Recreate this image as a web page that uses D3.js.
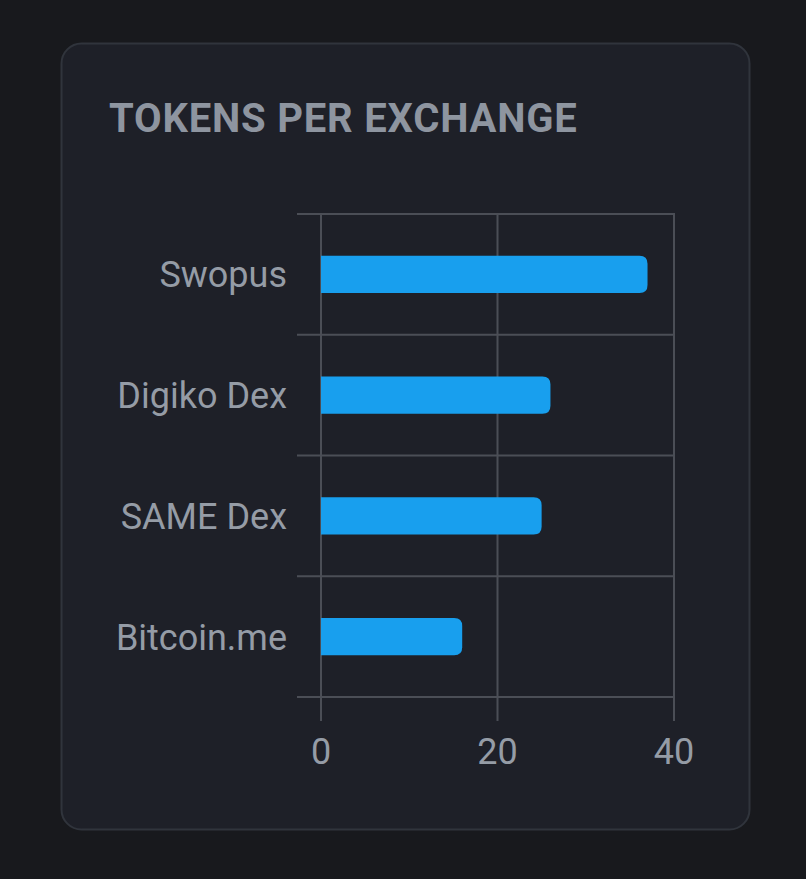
<!DOCTYPE html>
<html>
<head>
<meta charset="utf-8">
<script src="https://cdn.jsdelivr.net/npm/d3@7"></script>
<style>
  html, body { margin: 0; padding: 0; background: #18191d; }
  svg { display: block; }
</style>
</head>
<body>
<svg></svg>
<script>
var W = 806, H = 879;

// data
var exchanges = ["Swopus", "Digiko Dex", "SAME Dex", "Bitcoin.me"];
var tokens = [37, 26, 25, 16];
var xTicks = [0, 20, 40];

var svg = d3.select("svg")
  .attr("width", W)
  .attr("height", H);

// card
svg.append("rect")
  .attr("x", 61.5).attr("y", 43.5)
  .attr("width", 688).attr("height", 786)
  .attr("rx", 20)
  .attr("fill", "#1e2028")
  .attr("stroke", "#30343c")
  .attr("stroke-width", 2);

svg.append("text")
  .attr("x", 109).attr("y", 132)
  .attr("font-family", "Roboto")
  .attr("font-weight", "bold")
  .attr("font-size", 40)
  .attr("letter-spacing", 0.8)
  .attr("fill", "#8e95a0")
  .text("TOKENS PER EXCHANGE");

var margin = {top: 214, left: 321, right: 806 - 674, bottom: 879 - 697};

var x = d3.scaleLinear()
  .domain([0, 40])
  .range([margin.left, W - margin.right]);

var y = d3.scaleBand()
  .domain(exchanges)
  .range([margin.top, H - margin.bottom]);

var gridColor = "#4b4e56";
var tickLen = 24;

var g = svg.append("g");

// vertical grid lines + ticks below
g.selectAll(".vgrid")
  .data(xTicks)
  .enter()
  .append("line")
    .attr("x1", d => x(d)).attr("x2", d => x(d))
    .attr("y1", y.range()[0]).attr("y2", y.range()[1] + tickLen)
    .attr("stroke", gridColor)
    .attr("stroke-width", 2);

// horizontal grid lines at band edges + ticks left
var edges = exchanges.map(d => y(d)).concat([y.range()[1]]);
g.selectAll(".hgrid")
  .data(edges)
  .enter()
  .append("line")
    .attr("x1", x.range()[0] - tickLen).attr("x2", x.range()[1] + 1)
    .attr("y1", d => d).attr("y2", d => d)
    .attr("stroke", gridColor)
    .attr("stroke-width", 2);

// bars, rounded on the right end only
var barH = y.bandwidth() * 0.31;
var r = 8;
function barPath(d, i) {
  var x0 = x(0), x1 = x(d);
  var yc = y(exchanges[i]) + y.bandwidth() / 2;
  var y0 = yc - barH / 2, y1 = yc + barH / 2;
  return "M" + x0 + "," + y0 +
    "H" + (x1 - r) +
    "Q" + x1 + "," + y0 + " " + x1 + "," + (y0 + r) +
    "V" + (y1 - r) +
    "Q" + x1 + "," + y1 + " " + (x1 - r) + "," + y1 +
    "H" + x0 + "Z";
}
g.selectAll(".bar")
  .data(tokens)
  .enter()
  .append("path")
    .attr("d", barPath)
    .attr("fill", "#189fee");

// category labels
g.selectAll(".ylabel")
  .data(exchanges)
  .enter()
  .append("text")
    .attr("x", 287)
    .attr("y", d => y(d) + y.bandwidth() / 2)
    .attr("dy", "0.36em")
    .attr("text-anchor", "end")
    .attr("font-family", "Roboto")
    .attr("font-size", 36)
    .attr("fill", "#959ca6")
    .text(d => d);

// x tick labels
g.selectAll(".xlabel")
  .data(xTicks)
  .enter()
  .append("text")
    .attr("x", d => x(d))
    .attr("y", 764)
    .attr("text-anchor", "middle")
    .attr("font-family", "Roboto")
    .attr("font-size", 36)
    .attr("fill", "#959ca6")
    .text(d => d);
</script>
</body>
</html>
